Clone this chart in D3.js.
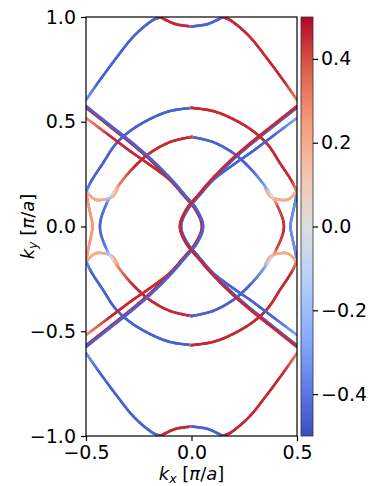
<!DOCTYPE html>
<html><head><meta charset="utf-8">
<script src="https://cdn.jsdelivr.net/npm/d3@7/dist/d3.min.js"></script>
<style>body{margin:0;background:#fff} text{font-family:"DejaVu Sans",sans-serif;fill:#000}</style>
</head><body><svg id="c" width="370" height="486"></svg>
<script>
// axis ticks
const kxTicks = [-0.5, 0, 0.5];
const kyTicks = [-1, -0.5, 0, 0.5, 1];
const cbTicks = [-0.4, -0.2, 0, 0.2, 0.4];

// Fermi contour branches, each point: [kx, ky, spin]
const topLeft = [[-0.5,0.604,-0.3],[-0.434,0.699,-0.45],[-0.353,0.809,-0.45],[-0.277,0.905,-0.45],[-0.197,0.976,-0.45],[-0.149,1.0,-0.45],[-0.092,1.024,-0.45]];
const topRight = [[0.5,0.604,0.3],[0.434,0.699,0.45],[0.353,0.809,0.45],[0.277,0.905,0.45],[0.197,0.976,0.45],[0.149,1.0,0.45],[0.092,1.024,0.45]];
const topBump = [[-0.21,1.03,0.45],[-0.149,1.0,0.45],[-0.078,0.967,0.45],[-0.003,0.955,0.45],[0.003,0.955,-0.45],[0.078,0.967,-0.45],[0.149,1.0,-0.45],[0.21,1.03,-0.45]];
const botLeft = [[-0.5,-0.604,-0.3],[-0.434,-0.699,-0.45],[-0.353,-0.809,-0.45],[-0.277,-0.905,-0.45],[-0.197,-0.976,-0.45],[-0.149,-1.0,-0.45],[-0.092,-1.024,-0.45]];
const botRight = [[0.5,-0.604,0.3],[0.434,-0.699,0.45],[0.353,-0.809,0.45],[0.277,-0.905,0.45],[0.197,-0.976,0.45],[0.149,-1.0,0.45],[0.092,-1.024,0.45]];
const botBump = [[-0.21,-1.03,0.45],[-0.149,-1.0,0.45],[-0.078,-0.967,0.45],[-0.003,-0.955,0.45],[0.003,-0.955,-0.45],[0.078,-0.967,-0.45],[0.149,-1.0,-0.45],[0.21,-1.03,-0.45]];

// outer Γ contour: leaves the zone at kx = ±0.5 and re-enters on the other side
const outerUp = [[-0.52,0.13,-0.3],[-0.5,0.165,-0.3],[-0.472,0.222,-0.45],[-0.419,0.303,-0.45],[-0.363,0.389,-0.45],[-0.291,0.456,-0.45],[-0.197,0.513,-0.45],[-0.102,0.551,-0.45],[-0.003,0.566,-0.45],[0.003,0.566,0.45],[0.102,0.551,0.45],[0.197,0.513,0.45],[0.291,0.456,0.45],[0.363,0.389,0.45],[0.419,0.303,0.45],[0.472,0.222,0.45],[0.5,0.165,0.3],[0.52,0.13,0.3]];
const outerDn = [[-0.52,-0.13,-0.3],[-0.5,-0.165,-0.3],[-0.472,-0.222,-0.45],[-0.419,-0.303,-0.45],[-0.363,-0.389,-0.45],[-0.291,-0.456,-0.45],[-0.197,-0.513,-0.45],[-0.102,-0.551,-0.45],[-0.003,-0.566,-0.45],[0.003,-0.566,0.45],[0.102,-0.551,0.45],[0.197,-0.513,0.45],[0.291,-0.456,0.45],[0.363,-0.389,0.45],[0.419,-0.303,0.45],[0.472,-0.222,0.45],[0.5,-0.165,0.3],[0.52,-0.13,0.3]];
const pocketLeft = [[-0.51,0.2,0.25],[-0.5,0.165,0.25],[-0.49,0.11,0.25],[-0.478,0.055,0.25],[-0.469,0,0.25],[-0.478,-0.055,0.25],[-0.49,-0.11,0.25],[-0.5,-0.165,0.25],[-0.51,-0.2,0.25]];
const pocketRight = [[0.51,0.2,-0.35],[0.5,0.165,-0.35],[0.49,0.11,-0.35],[0.478,0.055,-0.35],[0.469,0,-0.35],[0.478,-0.055,-0.35],[0.49,-0.11,-0.35],[0.5,-0.165,-0.35],[0.51,-0.2,-0.35]];

// inner Γ contour (closed)
const innerLoop = [[-0.003,0.427,0.45],[-0.102,0.403,0.45],[-0.197,0.351,0.45],[-0.277,0.279,0.45],[-0.348,0.193,0.3],[-0.405,0.103,-0.4],[-0.434,0,-0.45],[-0.405,-0.103,-0.4],[-0.348,-0.193,0.3],[-0.277,-0.279,0.45],[-0.197,-0.351,0.45],[-0.102,-0.403,0.45],[-0.003,-0.427,0.45],[0.003,-0.427,-0.45],[0.102,-0.403,-0.45],[0.197,-0.351,-0.45],[0.277,-0.279,-0.45],[0.348,-0.193,-0.3],[0.405,-0.103,0.4],[0.438,0,0.45],[0.405,0.103,0.4],[0.348,0.193,-0.3],[0.277,0.279,-0.45],[0.197,0.351,-0.45],[0.102,0.403,-0.45],[0.003,0.427,-0.45],[-0.003,0.427,0.45]];

// short hybridised links near the zone edge
const linkUL = [[-0.5,0.17,0.2],[-0.467,0.135,0.2],[-0.434,0.126,0.2],[-0.377,0.141,0.2],[-0.348,0.184,0.2]];
const linkDL = [[-0.5,-0.17,0.2],[-0.467,-0.135,0.2],[-0.434,-0.126,0.2],[-0.377,-0.141,0.2],[-0.348,-0.184,0.2]];
const linkUR = [[0.5,0.17,0.2],[0.467,0.135,0.2],[0.434,0.126,0.2],[0.377,0.141,0.2],[0.348,0.184,0.2]];
const linkDR = [[0.5,-0.17,0.2],[0.467,-0.135,0.2],[0.434,-0.126,0.2],[0.377,-0.141,0.2],[0.348,-0.184,0.2]];

// contour around the zone edge point (±0.5, 0), seen as two wedges
const wedgeRight = [[-0.5,0.575,-0.45],[-0.386,0.484,-0.45],[-0.291,0.408,-0.45],[-0.197,0.327,-0.45],[-0.102,0.232,-0.45],[-0.031,0.150,-0.45],[0.026,0.079,-0.45],[0.055,0,-0.45],[0.026,-0.079,-0.45],[-0.031,-0.150,-0.45],[-0.102,-0.232,-0.45],[-0.197,-0.327,-0.45],[-0.291,-0.408,-0.45],[-0.386,-0.484,-0.45],[-0.5,-0.575,-0.45]];
const wedgeLeft = [[0.5,0.575,0.45],[0.386,0.484,0.45],[0.291,0.408,0.45],[0.197,0.327,0.45],[0.102,0.232,0.45],[0.031,0.150,0.45],[-0.026,0.079,0.45],[-0.055,0,0.45],[-0.026,-0.079,0.45],[0.031,-0.150,0.45],[0.102,-0.232,0.45],[0.197,-0.327,0.45],[0.291,-0.408,0.45],[0.386,-0.484,0.45],[0.5,-0.575,0.45]];
// spin partners of the wedges near the zone edge
const partnerUL = [[-0.5,0.518,0.25],[-0.386,0.432,0.45],[-0.291,0.360,0.45],[-0.197,0.294,0.45],[-0.102,0.222,0.45],[-0.04,0.152,0.45]];
const partnerDL = [[-0.5,-0.518,0.25],[-0.386,-0.432,0.45],[-0.291,-0.360,0.45],[-0.197,-0.294,0.45],[-0.102,-0.222,0.45],[-0.04,-0.152,0.45]];
const partnerUR = [[0.5,0.518,-0.25],[0.386,0.432,-0.45],[0.291,0.360,-0.45],[0.197,0.294,-0.45],[0.102,0.222,-0.45],[0.04,0.152,-0.45]];
const partnerDR = [[0.5,-0.518,-0.25],[0.386,-0.432,-0.45],[0.291,-0.360,-0.45],[0.197,-0.294,-0.45],[0.102,-0.222,-0.45],[0.04,-0.152,-0.45]];

// [points, offset of the opposite-spin shadow in px (0 = none)]
const branches = [
  [topLeft,0],[topRight,0],[topBump,0],[botLeft,0],[botRight,0],[botBump,0],
  [pocketLeft,0],[pocketRight,0],[linkUL,0],[linkDL,0],[linkUR,0],[linkDR,0],
  [outerUp,0],[outerDn,0],[innerLoop,0],
  [partnerUL,0],[partnerDL,0],[partnerUR,0],[partnerDR,0],
  [wedgeRight,1.3],[wedgeLeft,-1.3]
];

const svg = d3.select("#c");
const L = 86, R = 297, T = 17, B = 436;
const x = d3.scaleLinear().domain([-0.5, 0.5]).range([L, R]);
const y = d3.scaleLinear().domain([-1, 1]).range([B, T]);

// coolwarm colormap
const cw = d3.scaleLinear()
  .domain([-0.5,-0.375,-0.25,-0.125,0,0.125,0.25,0.375,0.5])
  .range(["#3b4cc0","#6282ea","#8db0fe","#b8d0f9","#dddddd","#f5c4ad","#f49a7b","#de604d","#b40426"])
  .clamp(true);

svg.append("defs").append("clipPath").attr("id","pa")
  .append("rect").attr("x",L).attr("y",T).attr("width",R-L).attr("height",B-T);

// Catmull-Rom resampling in screen space; closed when first point equals last
function smooth(pts, n) {
  const P = pts.map(p => [x(p[0]), y(p[1]), p[2]]);
  const m = P.length;
  const closed = pts[0][0] === pts[m-1][0] && pts[0][1] === pts[m-1][1];
  const at = i => closed ? P[((i % (m-1)) + (m-1)) % (m-1)] : P[Math.max(0, Math.min(m-1, i))];
  const out = [];
  for (let i = 0; i < m - 1; i++) {
    const p0 = at(i-1), p1 = P[i], p2 = P[i+1], p3 = at(i+2);
    for (let k = 0; k < n; k++) {
      const t = k / n, t2 = t*t, t3 = t2*t;
      const f = (a,b,c,d) => 0.5*((2*b) + (-a+c)*t + (2*a-5*b+4*c-d)*t2 + (-a+3*b-3*c+d)*t3);
      out.push([f(p0[0],p1[0],p2[0],p3[0]), f(p0[1],p1[1],p2[1],p3[1]), p1[2] + (p2[2]-p1[2])*t]);
    }
  }
  out.push(P[m-1].slice());
  return out;
}
function shift(s, d) {
  return s.map((p, i) => {
    const a = s[Math.max(0,i-1)], b = s[Math.min(s.length-1,i+1)];
    const dx = b[0]-a[0], dy = b[1]-a[1], len = Math.hypot(dx,dy) || 1;
    return [p[0] - dy/len*d, p[1] + dx/len*d, -p[2]];
  });
}

const gl = svg.append("g").attr("clip-path","url(#pa)");
function stroke(s, w) {
  for (let i = 0; i < s.length - 1; i++) {
    gl.append("line")
      .attr("x1", s[i][0]).attr("y1", s[i][1]).attr("x2", s[i+1][0]).attr("y2", s[i+1][1])
      .attr("stroke", cw((s[i][2]+s[i+1][2])/2)).attr("stroke-width", w).attr("stroke-linecap","round");
  }
}
const sampled = branches.map(([pts, off]) => [smooth(pts, 16), off]);
sampled.forEach(([s, off]) => { if (off) stroke(shift(s, off), 2.4); });
sampled.forEach(([s]) => stroke(s, 2.6));

// frame and axes
svg.append("rect").attr("x",L).attr("y",T).attr("width",R-L).attr("height",B-T)
  .attr("fill","none").attr("stroke","#000").attr("stroke-width",1.2);

const fmt = v => (v < 0 ? "\u2212" : "") + Math.abs(v).toFixed(1);
const fs = 19, fsl = 18;
svg.append("g").attr("transform",`translate(0,${B})`)
  .call(d3.axisBottom(x).tickValues(kxTicks).tickFormat(fmt).tickSize(5).tickPadding(5))
  .call(g => { g.select(".domain").remove(); g.selectAll("text").attr("font-size",fs).attr("font-family","DejaVu Sans"); g.selectAll("line").attr("stroke","#000").attr("stroke-width",1.2); });
svg.append("g").attr("transform",`translate(${L},0)`)
  .call(d3.axisLeft(y).tickValues(kyTicks).tickFormat(fmt).tickSize(5).tickPadding(5))
  .call(g => { g.select(".domain").remove(); g.selectAll("text").attr("font-size",fs).attr("font-family","DejaVu Sans"); g.selectAll("line").attr("stroke","#000").attr("stroke-width",1.2); });

// colorbar
const cbL = 301, cbR = 313;
const cbScale = d3.scaleLinear().domain([-0.5, 0.5]).range([B, T]);
const grad = svg.select("defs").append("linearGradient").attr("id","cg")
  .attr("x1",0).attr("y1",1).attr("x2",0).attr("y2",0);
d3.range(0, 1.0001, 0.05).forEach(f => grad.append("stop").attr("offset", f).attr("stop-color", cw(-0.5 + f)));
svg.append("rect").attr("x",cbL).attr("y",T).attr("width",cbR-cbL).attr("height",B-T).attr("fill","url(#cg)")
  .attr("stroke","#333").attr("stroke-width",0.8);
svg.append("g").attr("transform",`translate(${cbR},0)`)
  .call(d3.axisRight(cbScale).tickValues(cbTicks).tickFormat(fmt).tickSize(5).tickPadding(3))
  .call(g => { g.select(".domain").remove(); g.selectAll("text").attr("font-size",fs).attr("font-family","DejaVu Sans"); g.selectAll("line").attr("stroke","#000").attr("stroke-width",1.2); });

// axis titles
const xt = svg.append("text").attr("x", (L+R)/2).attr("y", 480).attr("text-anchor","middle").attr("font-size",fsl);
xt.append("tspan").attr("font-style","italic").text("k");
xt.append("tspan").attr("font-style","italic").attr("font-size",fsl*0.7).attr("dy",3).text("x");
xt.append("tspan").attr("dy",-3).text(" [");
xt.append("tspan").attr("font-style","italic").text("\u03c0");
xt.append("tspan").text("/");
xt.append("tspan").attr("font-style","italic").text("a");
xt.append("tspan").text("]");

const yt = svg.append("text").attr("transform",`translate(34,${(T+B)/2}) rotate(-90)`).attr("text-anchor","middle").attr("font-size",fsl);
yt.append("tspan").attr("font-style","italic").text("k");
yt.append("tspan").attr("font-style","italic").attr("font-size",fsl*0.7).attr("dy",3).text("y");
yt.append("tspan").attr("dy",-3).text(" [");
yt.append("tspan").attr("font-style","italic").text("\u03c0");
yt.append("tspan").text("/");
yt.append("tspan").attr("font-style","italic").text("a");
yt.append("tspan").text("]");
</script></body></html>
